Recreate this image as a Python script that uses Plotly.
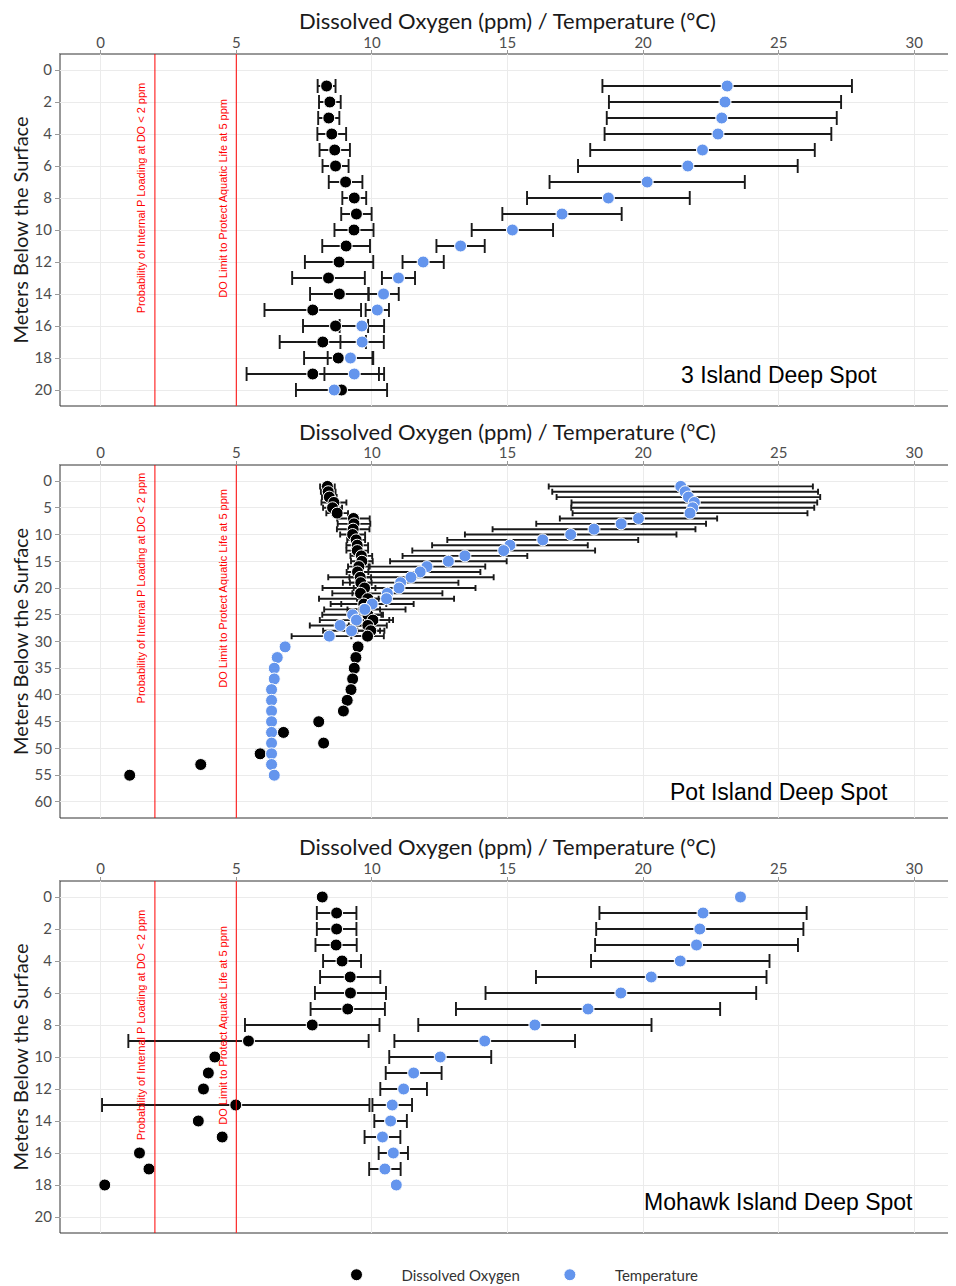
import plotly.graph_objects as go

# ---------------- data ----------------
panel_names = ["3 Island Deep Spot", "Pot Island Deep Spot", "Mohawk Island Deep Spot"]
x_title = "Dissolved Oxygen (ppm) / Temperature (°C)"
y_title = "Meters Below the Surface"

p1_depth = [1, 2, 3, 4, 5, 6, 7, 8, 9, 10, 11, 12, 13, 14, 15, 16, 17, 18, 19, 20]
p1_do = [8.33, 8.45, 8.41, 8.52, 8.63, 8.66, 9.03, 9.35, 9.43, 9.34, 9.05, 8.79, 8.40, 8.80, 7.82, 8.66, 8.19, 8.76, 7.82, 8.88]
p1_do_sd = [0.33, 0.40, 0.39, 0.53, 0.56, 0.48, 0.62, 0.44, 0.56, 0.72, 0.88, 1.26, 1.34, 1.08, 1.78, 1.20, 1.59, 1.26, 2.44, 1.68]
p1_temp = [23.10, 23.02, 22.90, 22.76, 22.19, 21.65, 20.15, 18.72, 17.01, 15.18, 13.27, 11.89, 10.98, 10.43, 10.20, 9.63, 9.64, 9.21, 9.35, 8.61]
p1_temp_sd = [4.60, 4.28, 4.24, 4.18, 4.14, 4.05, 3.60, 3.00, 2.20, 1.50, 0.89, 0.76, 0.61, 0.56, 0.43, 0.82, 0.80, 0.84, 1.10, None]

p2_depth = [1, 2, 3, 4, 5, 6, 7, 8, 9, 10, 11, 12, 13, 14, 15, 16, 17, 18, 19, 20,
            21, 22, 23, 24, 25, 26, 27, 28, 29,
            31, 33, 35, 37, 39, 41, 43, 45, 47, 49, 51, 53, 55]
p2_do = [8.36, 8.39, 8.43, 8.60, 8.55, 8.72, 9.32, 9.34, 9.31, 9.29, 9.42, 9.46, 9.46, 9.61, 9.63, 9.52, 9.47, 9.57, 9.59, 9.73,
         9.58, 9.85, 9.70, 9.70, 9.85, 10.04, 9.85, 9.96, 9.84,
         9.49, 9.41, 9.35, 9.29, 9.23, 9.09, 8.95, 8.04, 6.74, 8.22, 5.88, 3.69, 1.07]
p2_do_sd = [0.27, 0.27, 0.27, 0.46, 0.35, 0.40, 0.60, 0.60, 0.60, 0.46, 0.33, 0.40, 0.40, 0.40, 0.40, 0.40, 0.40, 0.40, 0.40, 0.40,
            0.30, 0.40, 0.83, 0.60, 0.50, 0.60, 0.70, 0.50, 0.60,
            None, None, None, None, None, None, None, None, None, None, None, None, None]
p2_temp = [21.39, 21.55, 21.67, 21.89, 21.83, 21.73, 19.83, 19.19, 18.19, 17.33, 16.30, 15.09, 14.86, 13.43, 12.82, 12.03, 11.78, 11.44, 11.06, 11.00,
           10.57, 10.54, 10.01, 9.74, 9.29, 9.43, 8.83, 9.25, 8.43,
           6.80, 6.51, 6.40, 6.40, 6.30, 6.30, 6.30, 6.30, 6.30, 6.30, 6.30, 6.30, 6.40]
p2_temp_sd = [4.87, 4.90, 4.86, 4.53, 4.48, 4.33, 2.90, 3.13, 3.74, 3.90, 3.52, 2.87, 3.37, 2.30, 2.15, 2.15, 2.22, 3.05, 2.13, 2.82,
              2.03, 2.49, 1.53, 1.50, 1.12, 1.35, 1.12, 1.05, 1.39,
              None, None, None, None, None, None, None, None, None, None, None, None, None]

p3_depth = [0, 1, 2, 3, 4, 5, 6, 7, 8, 9, 10, 11, 12, 13, 14, 15, 16, 17, 18]
p3_do = [8.17, 8.70, 8.70, 8.68, 8.90, 9.20, 9.21, 9.11, 7.80, 5.45, 4.21, 3.97, 3.79, 4.98, 3.60, 4.48, 1.43, 1.78, 0.15]
p3_do_sd = [None, 0.73, 0.73, 0.76, 0.70, 1.11, 1.31, 1.37, 2.48, 4.43, None, None, None, 4.93, None, None, None, None, None]
p3_temp = [23.59, 22.21, 22.09, 21.97, 21.37, 20.30, 19.18, 17.97, 16.01, 14.16, 12.52, 11.54, 11.17, 10.75, 10.69, 10.39, 10.79, 10.48, 10.90]
p3_temp_sd = [None, 3.82, 3.82, 3.74, 3.29, 4.25, 4.99, 4.87, 4.30, 3.33, 1.88, 1.03, 0.86, 0.73, 0.60, 0.66, 0.54, 0.58, None]

x_ticks = [0, 5, 10, 15, 20, 25, 30]
y_ticks_20 = [0, 2, 4, 6, 8, 10, 12, 14, 16, 18, 20]
y_ticks_60 = [0, 5, 10, 15, 20, 25, 30, 35, 40, 45, 50, 55, 60]

limit_values = [2, 5]
limit_labels = ["Probability of Internal P Loading at DO < 2 ppm", "DO Limit to Protect Aquatic Life at 5 ppm"]
limit_label_x = [1.5, 4.5]

# ---------------- styling ----------------
DO_COLOR = "black"
TEMP_COLOR = "#6495ED"
FONT = "Lato, 'Source Sans Pro', 'Noto Sans', sans-serif"

panels = [
    dict(depth=p1_depth, do=p1_do, do_sd=p1_do_sd, temp=p1_temp, temp_sd=p1_temp_sd,
         yrange=[21, -1], yticks=y_ticks_20, cap=7, label_y=8, title_y=19.05, xtitle_px=21, tls=-4),
    dict(depth=p2_depth, do=p2_do, do_sd=p2_do_sd, temp=p2_temp, temp_sd=p2_temp_sd,
         yrange=[63, -3], yticks=y_ticks_60, cap=3, label_y=20, title_y=58.1, xtitle_px=431, tls=-3),
    dict(depth=p3_depth, do=p3_do, do_sd=p3_do_sd, temp=p3_temp, temp_sd=p3_temp_sd,
         yrange=[21, -1], yticks=y_ticks_20, cap=7, label_y=8, title_y=19.05, xtitle_px=846, tls=-3),
]

# the page body has an 8px margin, so the figure is drawn 8px in from the corner
OFF = 8
W, H = 956 - OFF, 1286 - OFF
panel_px = [(54, 406), (465, 818), (881, 1233)]   # in window pixels
top_px, bot_px = 54, 1233
span = bot_px - top_px
domains = [[(bot_px - b) / span, (bot_px - t) / span] for t, b in panel_px]

fig = go.Figure()
shapes = []
annotations = []

for i, p in enumerate(panels):
    xa = "x" if i == 0 else f"x{i+1}"
    ya = "y" if i == 0 else f"y{i+1}"
    xd = "x domain" if i == 0 else f"x{i+1} domain"
    yd = "y domain" if i == 0 else f"y{i+1} domain"

    # error bars (only where a spread exists)
    for vals, sds in ((p["do"], p["do_sd"]), (p["temp"], p["temp_sd"])):
        ex = [v for v, s in zip(vals, sds) if s is not None]
        ey = [d for d, s in zip(p["depth"], sds) if s is not None]
        es = [s for s in sds if s is not None]
        fig.add_trace(go.Scatter(
            x=ex, y=ey, mode="markers", xaxis=xa, yaxis=ya,
            marker=dict(size=1, opacity=0),
            error_x=dict(type="data", array=es, symmetric=True, color="#1a1a1a",
                         thickness=1.9, width=p["cap"]),
            showlegend=False, hoverinfo="skip"))

    fig.add_trace(go.Scatter(
        x=p["do"], y=p["depth"], mode="markers", xaxis=xa, yaxis=ya,
        name="Dissolved Oxygen", legendgroup="do", showlegend=(i == 0),
        marker=dict(color=DO_COLOR, size=12, line=dict(color="white", width=1))))
    fig.add_trace(go.Scatter(
        x=p["temp"], y=p["depth"], mode="markers", xaxis=xa, yaxis=ya,
        name="Temperature", legendgroup="temp", showlegend=(i == 0),
        marker=dict(color=TEMP_COLOR, size=12, line=dict(color="white", width=1))))

    # red limit lines and labels
    for lv, lt, lx in zip(limit_values, limit_labels, limit_label_x):
        shapes.append(dict(type="line", xref=xa, yref=yd, x0=lv, x1=lv, y0=0, y1=1,
                           line=dict(color="red", width=1), layer="above"))
        annotations.append(dict(xref=xa, yref=ya, x=lx, y=p["label_y"], text=lt,
                                textangle=-90, showarrow=False,
                                font=dict(family="Liberation Sans, Arial", size=11, color="red")))

    # panel border (dark right/bottom; axes lines draw grey top/left)
    shapes.append(dict(type="rect", xref=xd, yref=yd, x0=0, x1=1, y0=0, y1=1,
                       line=dict(color="#333333", width=1), layer="below"))

    # panel name
    annotations.append(dict(xref=xa, yref=ya, x=25, y=p["title_y"], text=panel_names[i],
                            showarrow=False, xanchor="center", yanchor="middle",
                            font=dict(family="Liberation Sans, Arial", size=23, color="black")))

    # x axis title above the top tick labels
    annotations.append(dict(xref="paper", yref="paper", x=0.5,
                            y=(bot_px - p["xtitle_px"]) / span, text=x_title,
                            showarrow=False, xanchor="center", yanchor="middle",
                            font=dict(family=FONT, size=22, color="#1a1a1a")))

    xaxis = dict(domain=[0, 1], anchor=ya, side="top", range=[-1.5, 31.5], automargin=False,
                 tickvals=x_ticks, ticks="outside", ticklen=3, tickcolor="#999999",
                 ticklabelstandoff=p["tls"],
                 showgrid=True, gridcolor="#ebebeb", gridwidth=1, zeroline=False,
                 showline=True, linecolor="#999999", linewidth=1,
                 tickfont=dict(family=FONT, size=15, color="#4d4d4d"))
    yaxis = dict(domain=domains[i], anchor=xa, range=p["yrange"], tickvals=p["yticks"], automargin=False,
                 ticks="outside", ticklen=4, tickcolor="#999999",
                 showgrid=True, gridcolor="#ebebeb", gridwidth=1, zeroline=False,
                 showline=True, linecolor="#999999", linewidth=1,
                 tickfont=dict(family=FONT, size=15, color="#4d4d4d"),
                 title=dict(text=y_title, standoff=2,
                            font=dict(family=FONT, size=20, color="#1a1a1a")))
    key = "" if i == 0 else str(i + 1)
    fig.update_layout(**{f"xaxis{key}": xaxis, f"yaxis{key}": yaxis})

fig.update_layout(
    width=W, height=H,
    margin=dict(l=60 - OFF, r=W - (955 - OFF), t=top_px - OFF, b=H - (bot_px - OFF), autoexpand=False),
    paper_bgcolor="white", plot_bgcolor="white",
    shapes=shapes, annotations=annotations,
    showlegend=True,
    legend=dict(orientation="h", x=0.5, xanchor="center", y=-(1275 - bot_px) / span, yanchor="middle",
                font=dict(family=FONT, size=15, color="#333333"),
                itemwidth=80, bgcolor="rgba(0,0,0,0)"),
    font=dict(family=FONT),
)

fig.write_html("out.html")
